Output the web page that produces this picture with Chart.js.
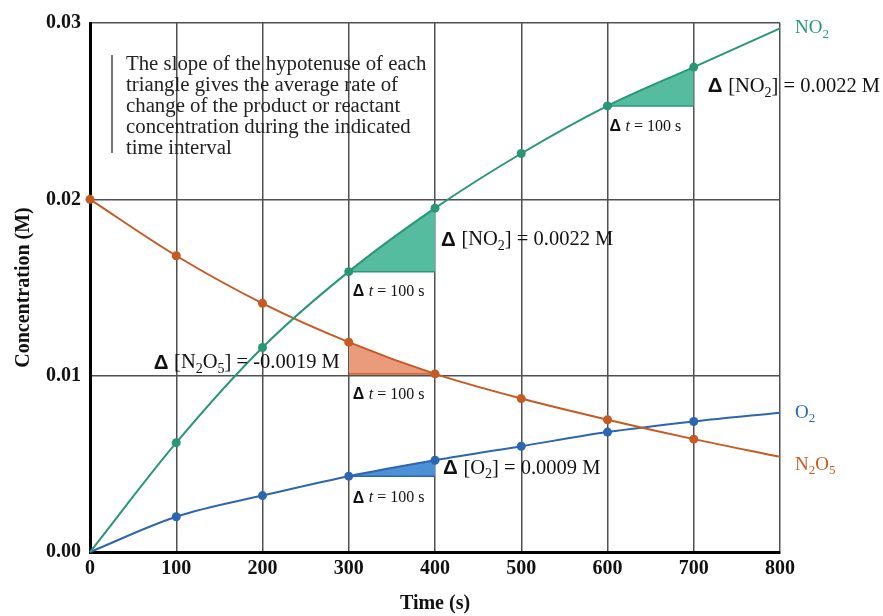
<!DOCTYPE html>
<html>
<head>
<meta charset="utf-8">
<script src="https://cdn.jsdelivr.net/npm/chart.js@4.4.1/dist/chart.umd.min.js"></script>
<style>
html, body { margin: 0; padding: 0; background: #fff; }
</style>
</head>
<body>
<canvas id="myChart" width="883" height="616"></canvas>
<script>
// time in seconds, concentrations in M
var times = [0, 100, 200, 300, 400, 500, 600, 700, 800];
var no2  = [0, 0.0062, 0.0116, 0.0159, 0.0195, 0.0226, 0.0253, 0.0275, 0.0297];
var n2o5 = [0.0200, 0.0168, 0.0141, 0.0119, 0.0101, 0.0087, 0.0075, 0.0064, 0.0054];
var o2   = [0, 0.0020, 0.0032, 0.0043, 0.0052, 0.0060, 0.0068, 0.0074, 0.0079];
var yTicks = [0, 0.01, 0.02, 0.03];
var xTicks = [0, 100, 200, 300, 400, 500, 600, 700, 800];

var green = '#2a9678', greenFill = '#56bca0';
var orange = '#c65a22', orangeFill = '#e99b7c';
var blue = '#2c66b0', blueFill = '#4c90d6';
var serif = '"Liberation Serif", "Times New Roman", serif';

function pts(arr) {
    return times.map(function (t, i) { return { x: t, y: arr[i] }; });
}
function radii(firstShown) {
    return times.map(function (t, i) {
        if (t === 800) return 0;
        if (i === 0 && !firstShown) return 0;
        return 4.5;
    });
}
function series(label, arr, color, firstShown) {
    return {
        label: label,
        data: pts(arr),
        borderColor: color,
        backgroundColor: color,
        borderWidth: 2,
        pointRadius: radii(firstShown),
        pointBorderWidth: 0,
        cubicInterpolationMode: 'monotone',
        fill: false,
        clip: false,
        order: 0
    };
}
// horizontal leg of a triangle, filled up/down to the curve
function leg(t0, t1, level, target, color, fillColor) {
    return {
        label: 'tri',
        data: [{ x: t0, y: level }, { x: t1, y: level }],
        borderColor: color,
        borderWidth: 1.5,
        pointRadius: 0,
        fill: { target: target, above: fillColor, below: fillColor },
        order: 1
    };
}

var datasets = [
    series('NO2', no2, green, false),
    series('N2O5', n2o5, orange, true),
    series('O2', o2, blue, false),
    leg(300, 400, no2[3], 0, green, greenFill),
    leg(600, 700, no2[6], 0, green, greenFill),
    leg(300, 400, n2o5[4], 1, orange, orangeFill),
    leg(300, 400, o2[3], 2, blue, blueFill)
];

function fontFor(kind, size) {
    if (kind === 'd') return 'bold ' + size + 'px "Liberation Sans", Arial, sans-serif';
    if (kind === 'i') return 'italic ' + size + 'px ' + serif;
    if (kind === 'sub') return Math.round(size * 0.7) + 'px ' + serif;
    return size + 'px ' + serif;
}
function drawRich(ctx, parts, x, y, size, color, align) {
    var w = 0;
    parts.forEach(function (p) { ctx.font = fontFor(p[1], size); w += ctx.measureText(p[0]).width; });
    var cx = align === 'right' ? x - w : x;
    ctx.fillStyle = color;
    ctx.textBaseline = 'middle';
    ctx.textAlign = 'left';
    parts.forEach(function (p) {
        ctx.font = fontFor(p[1], size);
        var dy = p[1] === 'sub' ? size * 0.32 : 0;
        ctx.fillText(p[0], cx, y + dy);
        cx += ctx.measureText(p[0]).width;
    });
}

var dt = [['Δ ', 'd'], ['t', 'i'], [' = 100 s', 'n']];

var notes = {
    id: 'notes',
    afterDatasetsDraw: function (chart) {
        var ctx = chart.ctx, xs = chart.scales.x, ys = chart.scales.y;
        var X = function (v) { return xs.getPixelForValue(v); };
        var Y = function (v) { return ys.getPixelForValue(v); };
        ctx.save();

        // explanatory text
        var lines = ['The slope of the hypotenuse of each', 'triangle gives the average rate of',
            'change of the product or reactant', 'concentration during the indicated', 'time interval'];
        ctx.font = '20.8px ' + serif;
        ctx.fillStyle = '#222';
        ctx.textBaseline = 'middle';
        lines.forEach(function (l, i) {
            ctx.fillText(l, 126, 65 + i * 21);
        });
        ctx.strokeStyle = '#777';
        ctx.lineWidth = 2;
        ctx.beginPath();
        ctx.moveTo(112, 55);
        ctx.lineTo(112, 153);
        ctx.stroke();

        // NO2 triangles
        drawRich(ctx, [['Δ ', 'd'], ['[NO', 'n'], ['2', 'sub'], ['] = 0.0022 M', 'n']],
            X(400) + 6, (Y(no2[3]) + Y(no2[4])) / 2, 20.5, '#111');
        drawRich(ctx, dt, X(300) + 4, Y(no2[3]) + 20, 16, '#111');
        drawRich(ctx, [['Δ ', 'd'], ['[NO', 'n'], ['2', 'sub'], ['] = 0.0022 M', 'n']],
            X(700) + 14, (Y(no2[6]) + Y(no2[7])) / 2, 20.5, '#111');
        drawRich(ctx, dt, X(600) + 2, Y(no2[6]) + 21, 16, '#111');

        // N2O5 triangle
        drawRich(ctx, [['Δ ', 'd'], ['[N', 'n'], ['2', 'sub'], ['O', 'n'], ['5', 'sub'], ['] = -0.0019 M', 'n']],
            X(300) - 9, Y(n2o5[4]) - 11, 20.5, '#111', 'right');
        drawRich(ctx, dt, X(300) + 4, Y(n2o5[4]) + 21, 16, '#111');

        // O2 triangle
        drawRich(ctx, [['Δ ', 'd'], ['[O', 'n'], ['2', 'sub'], ['] = 0.0009 M', 'n']],
            X(400) + 8, (Y(o2[3]) + Y(o2[4])) / 2, 20.5, '#111');
        drawRich(ctx, dt, X(300) + 4, Y(o2[3]) + 22, 16, '#111');

        // series names
        drawRich(ctx, [['NO', 'n'], ['2', 'sub']], X(800) + 15, Y(no2[8]), 19, green);
        drawRich(ctx, [['O', 'n'], ['2', 'sub']], X(800) + 15, Y(o2[8]), 19, blue);
        drawRich(ctx, [['N', 'n'], ['2', 'sub'], ['O', 'n'], ['5', 'sub']], X(800) + 15, Y(n2o5[8]) + 8, 19, orange);

        ctx.restore();
    }
};

var chart = new Chart(document.getElementById('myChart'), {
    type: 'line',
    data: { datasets: datasets },
    options: {
        responsive: false,
        animation: false,
        layout: { padding: { left: 0, right: 103, top: 23, bottom: 0 } },
        plugins: { legend: { display: false }, tooltip: { enabled: false } },
        scales: {
            x: {
                type: 'linear',
                min: 0, max: 800,
                afterBuildTicks: function (s) { s.ticks = xTicks.map(function (v) { return { value: v }; }); },
                afterFit: function (s) { s.height = 64; },
                grid: { color: '#505050', lineWidth: 1.5, drawTicks: false },
                border: { color: '#000', width: 3 },
                ticks: { padding: 5, color: '#111', font: { family: serif, size: 20, weight: 'bold' } },
                title: { display: true, text: 'Time (s)', color: '#111', padding: { top: 0, bottom: 0 },
                    font: { family: serif, size: 20, weight: 'bold' } }
            },
            y: {
                min: 0, max: 0.03,
                afterBuildTicks: function (s) { s.ticks = yTicks.map(function (v) { return { value: v }; }); },
                afterFit: function (s) { s.width = 90; },
                grid: { color: '#505050', lineWidth: 1.5, drawTicks: false },
                border: { color: '#000', width: 3 },
                ticks: { padding: 9, color: '#111', font: { family: serif, size: 20, weight: 'bold' },
                    callback: function (v) { return v.toFixed(2); } },
                title: { display: true, text: 'Concentration (M)', color: '#111', padding: { top: 12, bottom: 0 },
                    font: { family: serif, size: 20, weight: 'bold' } }
            }
        }
    },
    plugins: [notes]
});
</script>
</body>
</html>
